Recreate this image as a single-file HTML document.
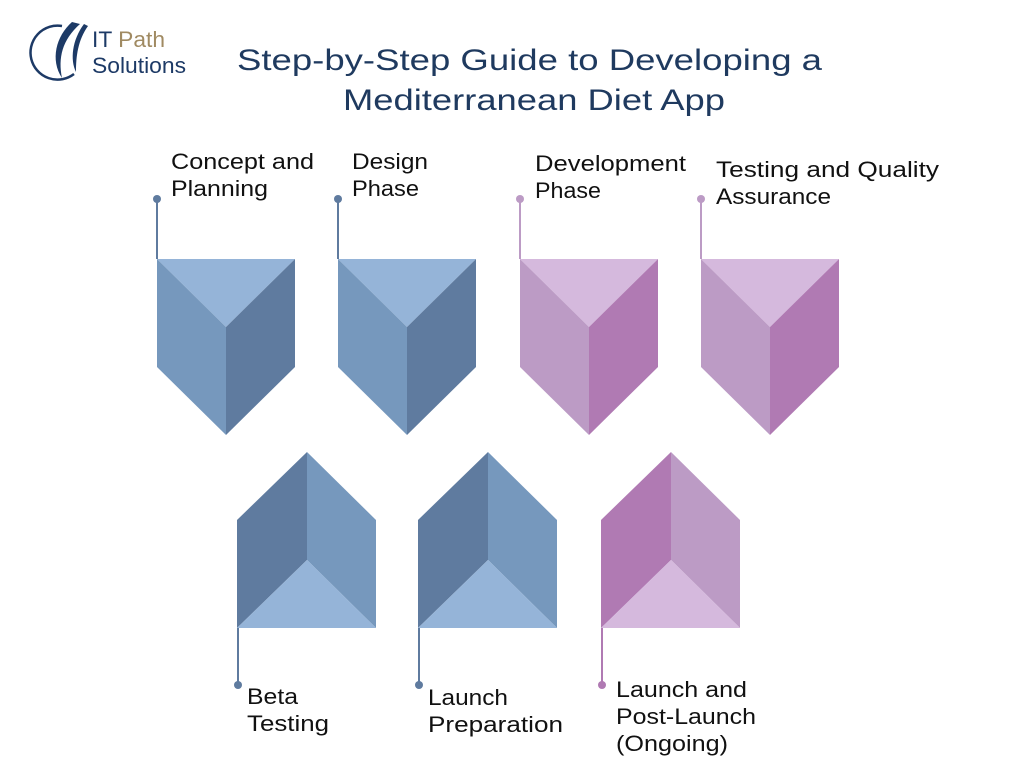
<!DOCTYPE html>
<html><head><meta charset="utf-8"><style>
html,body{margin:0;padding:0;background:#fff;}
svg{display:block;}
text{font-family:"Liberation Sans",sans-serif;}
</style></head><body>
<svg width="1024" height="768" viewBox="0 0 1024 768" xmlns="http://www.w3.org/2000/svg">
<rect width="1024" height="768" fill="#fff"/>
<!-- logo -->
<path d="M62 26 A27 27 0 1 0 74 74" fill="none" stroke="#1d3a66" stroke-width="2.5"/>
<path d="M72 22 C56 36 50 60 62 78 C58 58 62 40 80 24 Z" fill="#1d3a66"/>
<path d="M84 24 C72 40 70 60 76 72 C76 56 78 40 88 26 Z" fill="#1d3a66"/>
<text x="92" y="47" font-size="22" fill="#1d3a66" textLength="73" lengthAdjust="spacingAndGlyphs">IT <tspan fill="#a08a62">Path</tspan></text>
<text x="92" y="73" font-size="22" fill="#1d3a66" textLength="94" lengthAdjust="spacingAndGlyphs">Solutions</text>
<!-- title -->
<g fill="#1f3a5f" font-size="30">
<text x="237" y="70" textLength="585" lengthAdjust="spacingAndGlyphs">Step-by-Step Guide to Developing a</text>
<text x="343" y="110" textLength="382" lengthAdjust="spacingAndGlyphs">Mediterranean Diet App</text>
</g>
<!-- top shapes -->
<g>
<polygon points="157,259 295,259 226,327" fill="#95b4d8"/>
<polygon points="157,259 226,327 226,435 157,367" fill="#7698bd"/>
<polygon points="295,259 226,327 226,435 295,367" fill="#5f7b9f"/>
</g>
<g transform="translate(181,0)">
<polygon points="157,259 295,259 226,327" fill="#95b4d8"/>
<polygon points="157,259 226,327 226,435 157,367" fill="#7698bd"/>
<polygon points="295,259 226,327 226,435 295,367" fill="#5f7b9f"/>
</g>
<g transform="translate(363,0)">
<polygon points="157,259 295,259 226,327" fill="#d5b9dd"/>
<polygon points="157,259 226,327 226,435 157,367" fill="#bc9bc5"/>
<polygon points="295,259 226,327 226,435 295,367" fill="#b07ab3"/>
</g>
<g transform="translate(544,0)">
<polygon points="157,259 295,259 226,327" fill="#d5b9dd"/>
<polygon points="157,259 226,327 226,435 157,367" fill="#bc9bc5"/>
<polygon points="295,259 226,327 226,435 295,367" fill="#b07ab3"/>
</g>
<!-- bottom shapes -->
<g>
<polygon points="237,520 307,452 307,560 237,628" fill="#5f7b9f"/>
<polygon points="376,520 307,452 307,560 376,628" fill="#7698bd"/>
<polygon points="237,628 307,560 376,628" fill="#95b4d8"/>
</g>
<g transform="translate(181,0)">
<polygon points="237,520 307,452 307,560 237,628" fill="#5f7b9f"/>
<polygon points="376,520 307,452 307,560 376,628" fill="#7698bd"/>
<polygon points="237,628 307,560 376,628" fill="#95b4d8"/>
</g>
<g transform="translate(364,0)">
<polygon points="237,520 307,452 307,560 237,628" fill="#b07ab3"/>
<polygon points="376,520 307,452 307,560 376,628" fill="#bc9bc5"/>
<polygon points="237,628 307,560 376,628" fill="#d5b9dd"/>
</g>
<!-- connectors -->
<g stroke-width="2">
<line x1="157" y1="199" x2="157" y2="259" stroke="#5f7b9f"/>
<line x1="338" y1="199" x2="338" y2="259" stroke="#5f7b9f"/>
<line x1="520" y1="199" x2="520" y2="259" stroke="#bc9bc5"/>
<line x1="701" y1="199" x2="701" y2="259" stroke="#bc9bc5"/>
<line x1="238" y1="628" x2="238" y2="685" stroke="#5f7b9f"/>
<line x1="419" y1="628" x2="419" y2="685" stroke="#5f7b9f"/>
<line x1="602" y1="628" x2="602" y2="685" stroke="#b07ab3"/>
</g>
<circle cx="157" cy="199" r="4" fill="#5f7b9f"/>
<circle cx="338" cy="199" r="4" fill="#5f7b9f"/>
<circle cx="520" cy="199" r="4" fill="#bc9bc5"/>
<circle cx="701" cy="199" r="4" fill="#bc9bc5"/>
<circle cx="238" cy="685" r="4" fill="#5f7b9f"/>
<circle cx="419" cy="685" r="4" fill="#5f7b9f"/>
<circle cx="602" cy="685" r="4" fill="#b07ab3"/>
<!-- labels -->
<g font-size="22" fill="#111" lengthAdjust="spacingAndGlyphs">
<text x="171" y="169" textLength="143" lengthAdjust="spacingAndGlyphs">Concept and</text>
<text x="171" y="196" textLength="97" lengthAdjust="spacingAndGlyphs">Planning</text>
<text x="352" y="169" textLength="76" lengthAdjust="spacingAndGlyphs">Design</text>
<text x="352" y="196" textLength="67" lengthAdjust="spacingAndGlyphs">Phase</text>
<text x="535" y="171" textLength="151" lengthAdjust="spacingAndGlyphs">Development</text>
<text x="535" y="198" textLength="66" lengthAdjust="spacingAndGlyphs">Phase</text>
<text x="716" y="177" textLength="223" lengthAdjust="spacingAndGlyphs">Testing and Quality</text>
<text x="716" y="204" textLength="115" lengthAdjust="spacingAndGlyphs">Assurance</text>
<text x="247" y="704" textLength="51" lengthAdjust="spacingAndGlyphs">Beta</text>
<text x="247" y="731" textLength="82" lengthAdjust="spacingAndGlyphs">Testing</text>
<text x="428" y="705" textLength="80" lengthAdjust="spacingAndGlyphs">Launch</text>
<text x="428" y="732" textLength="135" lengthAdjust="spacingAndGlyphs">Preparation</text>
<text x="616" y="697" textLength="131" lengthAdjust="spacingAndGlyphs">Launch and</text>
<text x="616" y="724" textLength="140" lengthAdjust="spacingAndGlyphs">Post-Launch</text>
<text x="616" y="751" textLength="112" lengthAdjust="spacingAndGlyphs">(Ongoing)</text>
</g>
</svg>
</body></html>
